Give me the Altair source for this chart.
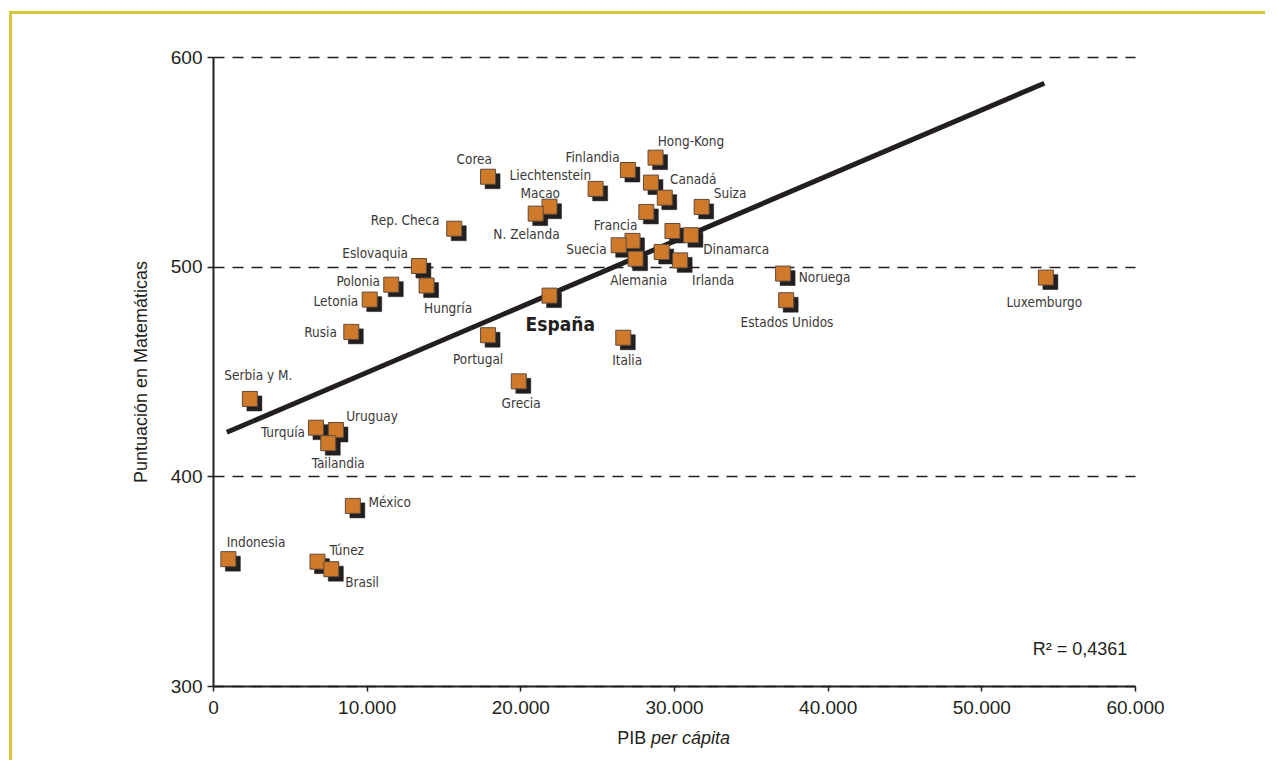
import altair as alt
import pandas as pd

# ---- data ----
paises = ["Hong-Kong", "Finlandia", "Corea", "Países Bajos", "Liechtenstein", "Canadá",
          "Suiza", "Macao", "Australia", "N. Zelanda", "Rep. Checa", "Islandia",
          "Dinamarca", "Francia", "Suecia", "Austria", "Alemania", "Irlanda",
          "Eslovaquia", "Noruega", "Luxemburgo", "Polonia", "Hungría", "España",
          "Letonia", "Estados Unidos", "Rusia", "Portugal", "Italia", "Grecia",
          "Serbia y M.", "Turquía", "Uruguay", "Tailandia", "México", "Indonesia",
          "Túnez", "Brasil"]
pib = [28800, 27000, 17900, 28500, 24900, 29400,
       31800, 21900, 28200, 21000, 15700, 29900,
       31100, 27300, 26400, 29200, 27500, 30400,
       13400, 37100, 54200, 11600, 13900, 21900,
       10200, 37300, 9000, 17900, 26700, 19900,
       2400, 6700, 8000, 7500, 9100, 1000,
       6800, 7700]
matematicas = [552.0, 546.1, 542.9, 540.1, 537.1, 532.9,
               528.5, 528.6, 526.1, 525.3, 518.1, 517.0,
               515.0, 512.3, 510.2, 507.0, 503.8, 503.0,
               500.3, 496.7, 494.8, 491.4, 491.0, 486.2,
               484.3, 484.0, 468.9, 467.3, 466.1, 445.3,
               436.9, 423.2, 422.1, 415.8, 385.9, 360.5,
               359.3, 355.7]

# labels (text and anchor point in data units)
etiquetas = ["Hong-Kong", "Finlandia", "Corea", "Liechtenstein", "Canadá", "Suiza",
             "Macao", "N. Zelanda", "Rep. Checa", "Dinamarca", "Francia", "Suecia",
             "Alemania", "Irlanda", "Eslovaquia", "Noruega", "Luxemburgo", "Polonia",
             "Hungría", "Letonia", "Estados Unidos", "Rusia", "Portugal", "Italia",
             "Grecia", "Serbia y M.", "Uruguay", "Turquía", "Tailandia", "México",
             "Indonesia", "Túnez", "Brasil"]
etiqueta_x = [31100, 24700, 17000, 21950, 31250, 33650,
              21300, 20400, 12500, 34050, 26200, 24300,
              27700, 32550, 10550, 39800, 54100, 9450,
              15300, 8000, 37350, 7000, 17250, 26950,
              20050, 2950, 10350, 4550, 8150, 11500,
              2800, 8700, 9700]
etiqueta_y = [559.5, 551.9, 551.0, 543.3, 541.5, 534.6,
              534.8, 514.9, 521.9, 508.0, 519.3, 508.0,
              493.4, 493.4, 506.2, 494.7, 482.9, 492.5,
              479.9, 483.2, 473.0, 468.2, 455.7, 455.1,
              434.7, 448.0, 428.2, 420.8, 405.7, 387.2,
              368.3, 364.3, 349.0]
espana_texto = ["España"]
espana_x = [22600]
espana_y = [472.3]

# trend line end points
tendencia_x = [900, 54100]
tendencia_y = [421.0, 587.5]

r2_texto = "R² = 0,4361"

x_ticks = [0, 10000, 20000, 30000, 40000, 50000, 60000]
y_ticks = [300, 400, 500, 600]

# ---- tables ----
puntos = pd.DataFrame({"pais": paises, "pib": pib, "mat": matematicas})
rotulos = pd.DataFrame({"texto": etiquetas, "pib": etiqueta_x, "mat": etiqueta_y})
rotulo_es = pd.DataFrame({"texto": espana_texto, "pib": espana_x, "mat": espana_y})
linea = pd.DataFrame({"pib": tendencia_x, "mat": tendencia_y})

INK = "#231f20"
ORANGE = "#cf7a2b"
FONT = "Liberation Sans, Arial, Helvetica, sans-serif"
NARROW = "DejaVu Sans Condensed, Liberation Sans Narrow, sans-serif"

W, H = 922, 629

X = alt.X("pib:Q",
          scale=alt.Scale(domain=[0, 60000], nice=False, zero=False),
          axis=alt.Axis(values=x_ticks, title=None, grid=False,
                        labelExpr="datum.value == 0 ? '0' : replace(format(datum.value, ','), ',', '.')",
                        domainColor=INK, domainWidth=2, tickColor=INK, tickWidth=1.5,
                        tickSize=5, labelFont=FONT, labelFontSize=19, labelColor=INK,
                        labelPadding=7, labelFlush=False))
Y = alt.Y("mat:Q",
          scale=alt.Scale(domain=[300, 600], nice=False, zero=False),
          axis=alt.Axis(values=y_ticks, title="Puntuación en Matemáticas",
                        grid=True, gridColor=INK, gridWidth=1.6, gridDash=[11, 8],
                        domainColor=INK, domainWidth=2, tickColor=INK, tickWidth=1.5,
                        tickSize=6, labelFont=FONT, labelFontSize=19, labelColor=INK,
                        labelPadding=5, titleFont=FONT, titleFontSize=18,
                        titleFontWeight="normal", titleColor=INK, titlePadding=20,
                        labelFlush=False))

marco = alt.Chart(alt.Data(values=[{}])).mark_rect(
    fillOpacity=0, stroke="#d6c640", strokeWidth=3
).encode(x=alt.value(-202.5), x2=alt.value(1200), y=alt.value(-44.5), y2=alt.value(800))

tendencia = alt.Chart(linea).mark_line(color=INK, strokeWidth=5, strokeCap="butt").encode(x=X, y=Y)

sombras = alt.Chart(puntos).mark_point(
    shape="M -0.4 -0.4 H 1.6 V 1.6 H -0.4 Z", filled=True, fill=INK, stroke=INK,
    strokeWidth=0.5, size=225, opacity=1
).encode(x=X, y=Y)

cuadros = alt.Chart(puntos).mark_point(
    shape="square", filled=True, fill=ORANGE, stroke="#5e4b3a", strokeWidth=1,
    size=225, opacity=1
).encode(x=X, y=Y)

textos = alt.Chart(rotulos).mark_text(
    font=NARROW, fontSize=13.5, color="#3b3838", align="center", baseline="middle"
).encode(x=X, y=Y, text="texto:N")

texto_es = alt.Chart(rotulo_es).mark_text(
    font=NARROW, fontSize=19, fontWeight="bold", color=INK, align="center", baseline="middle"
).encode(x=X, y=Y, text="texto:N")

r2 = alt.Chart(alt.Data(values=[{}])).mark_text(
    text=r2_texto, font=FONT, fontSize=18, color=INK, align="right", baseline="alphabetic"
).encode(x=alt.datum(59500), y=alt.datum(315))

titulo_a = alt.Chart(alt.Data(values=[{}])).mark_text(
    text="PIB", font=FONT, fontSize=18, color=INK, align="right", baseline="middle"
).encode(x=alt.datum(28200), y=alt.value(H + 53))
titulo_b = alt.Chart(alt.Data(values=[{}])).mark_text(
    text="per cápita", font=FONT, fontSize=18, fontStyle="italic", color=INK,
    align="left", baseline="middle"
).encode(x=alt.datum(28500), y=alt.value(H + 53))

chart = alt.layer(
    marco, tendencia, sombras, cuadros, textos, texto_es, r2, titulo_a, titulo_b
).properties(
    width=W, height=H,
    autosize=alt.AutoSizeParams(type="none"),
    padding={"left": 205, "top": 49, "right": 130, "bottom": 74},
    background="white",
).configure_view(strokeWidth=0)

chart.save("out.html", embed_options={"renderer": "svg", "actions": False})
